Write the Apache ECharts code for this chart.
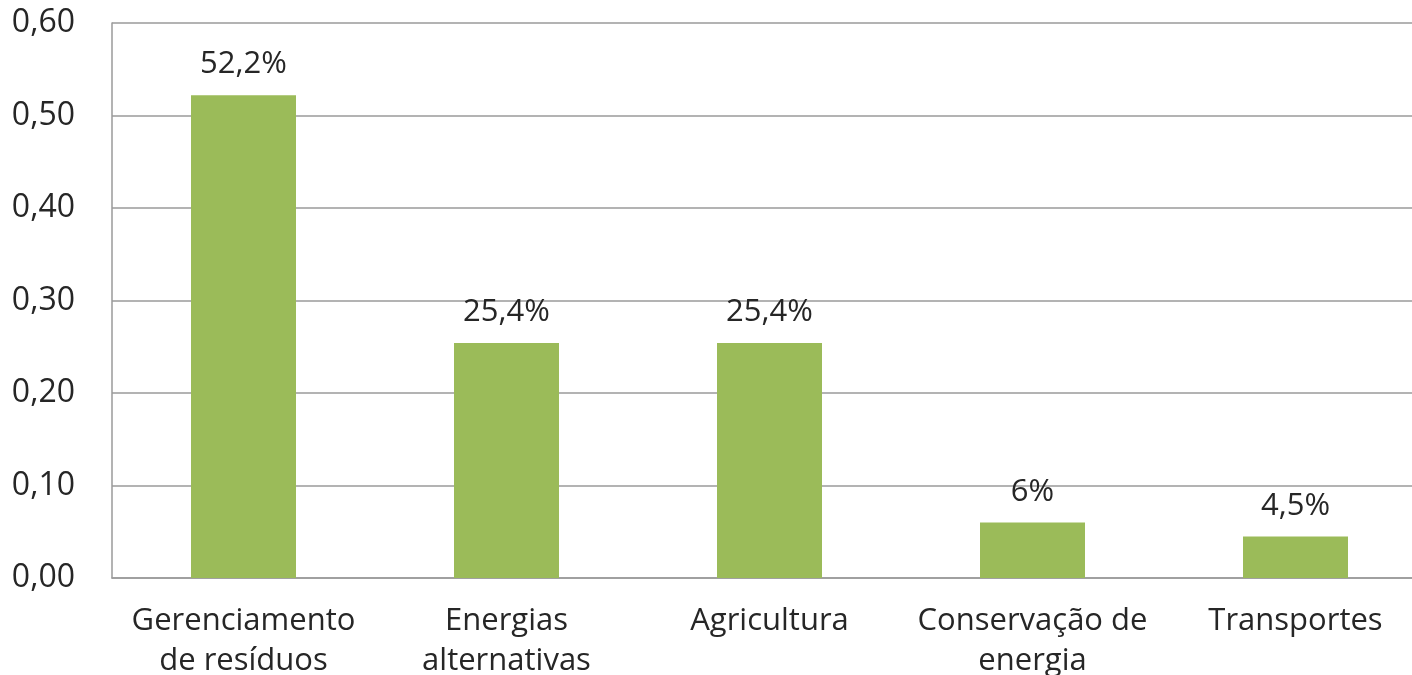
<!DOCTYPE html>
<html><head><meta charset="utf-8">
<script src="https://cdn.jsdelivr.net/npm/echarts@6/dist/echarts.min.js"></script>
<style>html,body{margin:0;padding:0;background:#fff}#c{width:1412px;height:675px}</style>
</head><body><div id="c"></div>
<script>
const categories = ["Gerenciamento\nde resíduos", "Energias\nalternativas", "Agricultura", "Conservação de\nenergia", "Transportes"];
const values = [0.522, 0.254, 0.254, 0.06, 0.045];
const valueLabels = ["52,2%", "25,4%", "25,4%", "6%", "4,5%"];
const yTicks = [0, 0.1, 0.2, 0.3, 0.4, 0.5, 0.6];

const font = "'Open Sans', 'Noto Sans', sans-serif";
const chart = echarts.init(document.getElementById('c'));
chart.setOption({
  animation: false,
  grid: { left: 112, top: 23, bottom: 97, right: -15, outerBoundsMode: 'none', containLabel: false },
  xAxis: {
    type: 'category', data: categories,
    axisLine: { lineStyle: { color: '#9a9a9a', width: 1.5 } },
    axisTick: { show: false },
    axisLabel: { color: '#262626', fontSize: 31, fontFamily: font, lineHeight: 40, margin: 23, interval: 0 }
  },
  yAxis: {
    type: 'value', min: 0, max: 0.6, interval: 0.1,
    axisLine: { show: true, lineStyle: { color: '#9a9a9a', width: 1.5 } },
    axisTick: { show: false },
    splitLine: { lineStyle: { color: '#9a9a9a', width: 1.5 } },
    axisLabel: { color: '#262626', fontSize: 32, fontFamily: font, margin: 37,
      formatter: v => v.toFixed(2).replace('.', ',') }
  },
  series: [{
    type: 'bar', data: values, barWidth: 105,
    itemStyle: { color: '#9BBB59' },
    label: { show: true, position: 'top', distance: 15, color: '#262626', fontSize: 31, fontFamily: font,
      formatter: p => valueLabels[p.dataIndex] }
  }]
});
</script></body></html>
